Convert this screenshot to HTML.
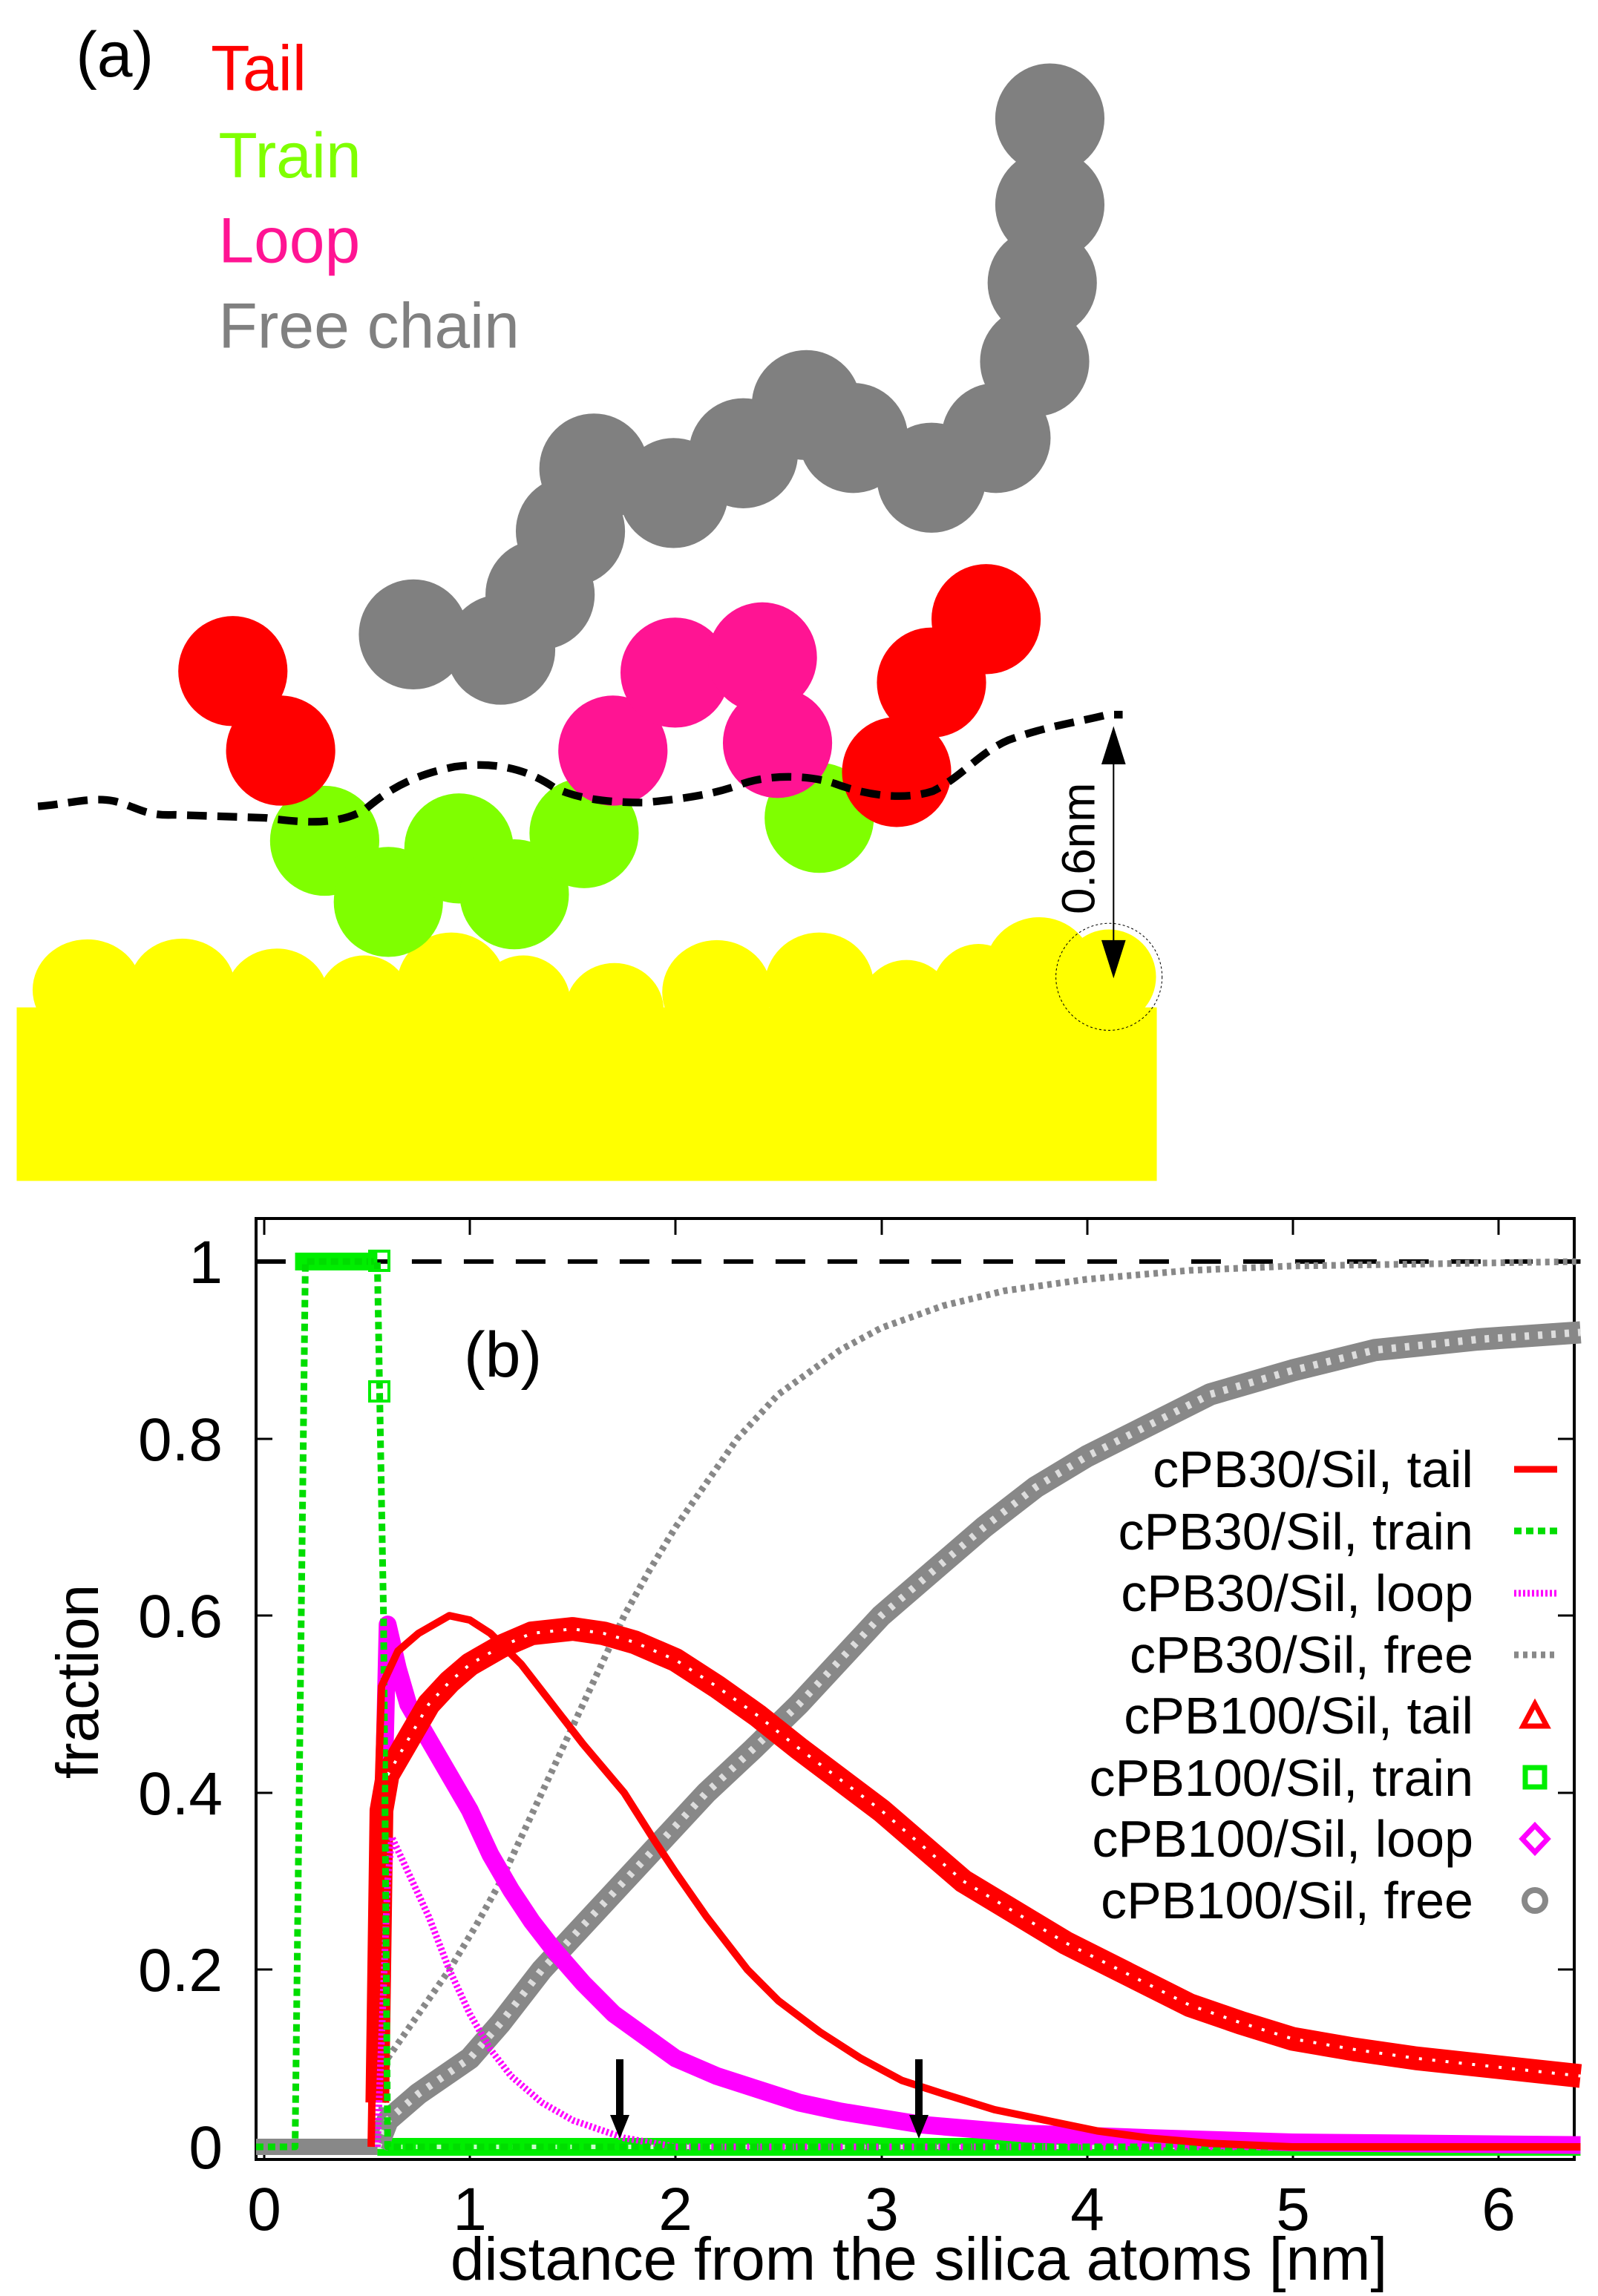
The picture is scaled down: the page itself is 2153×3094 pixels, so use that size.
<!DOCTYPE html>
<html><head><meta charset="utf-8"><style>
html,body{margin:0;padding:0;background:#fff}
svg{display:block}
text{font-family:"Liberation Sans",sans-serif}
</style></head><body>
<svg width="2153" height="3094" viewBox="0 0 2153 3094" xmlns="http://www.w3.org/2000/svg">
<rect width="2153" height="3094" fill="#fff"/>
<!-- Panel (a) -->
<g transform="scale(1.022,1.03)">
<rect x="22" y="1318" width="1503" height="227" fill="#ffff00"/>
<g fill="#ffff00">
<ellipse cx="115" cy="1295" rx="72" ry="66"/><ellipse cx="240" cy="1292" rx="70" ry="64"/><ellipse cx="365" cy="1305" rx="68" ry="64"/><ellipse cx="480" cy="1312" rx="62" ry="62"/><ellipse cx="595" cy="1290" rx="72" ry="70"/><ellipse cx="690" cy="1312" rx="62" ry="62"/><ellipse cx="810" cy="1322" rx="65" ry="62"/><ellipse cx="945" cy="1298" rx="72" ry="68"/><ellipse cx="1080" cy="1290" rx="72" ry="70"/><ellipse cx="1195" cy="1318" rx="62" ry="62"/><ellipse cx="1290" cy="1300" rx="62" ry="65"/><ellipse cx="1370" cy="1270" rx="72" ry="70"/><ellipse cx="1462" cy="1278" rx="62" ry="62"/>
</g>
<circle cx="1462" cy="1278" r="70" fill="none" stroke="#000" stroke-width="1" stroke-dasharray="3,3"/>
<g fill="#7fff00">
<circle cx="428" cy="1100" r="72"/><circle cx="512" cy="1180" r="72"/><circle cx="605" cy="1110" r="72"/><circle cx="678" cy="1170" r="72"/><circle cx="770" cy="1090" r="72"/><circle cx="1080" cy="1070" r="72"/>
</g>
<g fill="#ff0000">
<circle cx="307" cy="878" r="72"/><circle cx="370" cy="982" r="72"/><circle cx="1182" cy="1010" r="72"/><circle cx="1228" cy="893" r="72"/><circle cx="1300" cy="810" r="72"/>
</g>
<g fill="#ff1493">
<circle cx="808" cy="982" r="72"/><circle cx="890" cy="880" r="72"/><circle cx="1005" cy="860" r="72"/><circle cx="1025" cy="972" r="72"/>
</g>
<g fill="#808080">
<circle cx="545" cy="830" r="72"/><circle cx="660" cy="850" r="72"/><circle cx="712" cy="778" r="72"/><circle cx="752" cy="695" r="72"/><circle cx="783" cy="613" r="72"/><circle cx="888" cy="645" r="72"/><circle cx="980" cy="593" r="72"/><circle cx="1063" cy="530" r="72"/><circle cx="1125" cy="573" r="72"/><circle cx="1228" cy="625" r="72"/><circle cx="1313" cy="573" r="72"/><circle cx="1364" cy="473" r="72"/><circle cx="1374" cy="370" r="72"/><circle cx="1384" cy="268" r="72"/><circle cx="1384" cy="155" r="72"/>
</g>
<path d="M50,1055 C90,1052 120,1042 150,1048 C180,1055 190,1068 230,1066 L350,1070 C390,1075 440,1082 480,1060 C510,1035 540,1015 600,1003 C660,995 700,1010 730,1030 C760,1045 800,1050 850,1050 C900,1045 940,1040 980,1025 C1020,1012 1070,1015 1100,1025 C1140,1040 1190,1048 1230,1035 C1270,1015 1290,985 1330,968 C1380,950 1420,945 1460,935 L1480,935" fill="none" stroke="#000" stroke-width="10" stroke-dasharray="26,14"/>
<line x1="1468" y1="965" x2="1468" y2="1262" stroke="#000" stroke-width="2"/>
<polygon points="1468,950 1452,1000 1484,1000" fill="#000"/>
<polygon points="1468,1280 1452,1230 1484,1230" fill="#000"/>
<text transform="translate(1443,1110) rotate(-90)" text-anchor="middle" font-size="62">0.6nm</text>
<text x="100" y="100" font-size="84">(a)</text>
<text x="278" y="118" font-size="84" fill="#ff0000">Tail</text>
<text x="288" y="232" font-size="84" fill="#7fff00">Train</text>
<text x="288" y="343" font-size="84" fill="#ff1493">Loop</text>
<text x="288" y="455" font-size="84" fill="#808080">Free chain</text>
</g>

<!-- Panel (b) -->
<rect x="345" y="1642" width="1776" height="1268" fill="none" stroke="#000" stroke-width="4"/>
<g stroke="#000" stroke-width="3">
<path d="M356,2910v-22M633,2910v-22M910,2910v-22M1188,2910v-22M1465,2910v-22M1742,2910v-22M2019,2910v-22M356,1642v22M633,1642v22M910,1642v22M1188,1642v22M1465,1642v22M1742,1642v22M2019,1642v22"/>
<path d="M345,2893h22M345,2654h22M345,2416h22M345,2177h22M345,1939h22M345,1700h22M2121,2893h-22M2121,2654h-22M2121,2416h-22M2121,2177h-22M2121,1939h-22M2121,1700h-22"/>
</g>
<g font-size="82" text-anchor="end">
<text x="300" y="2922">0</text><text x="300" y="2683">0.2</text><text x="300" y="2445">0.4</text><text x="300" y="2206">0.6</text><text x="300" y="1968">0.8</text><text x="300" y="1729">1</text>
</g>
<g font-size="82" text-anchor="middle">
<text x="356" y="3005">0</text><text x="633" y="3005">1</text><text x="910" y="3005">2</text><text x="1188" y="3005">3</text><text x="1465" y="3005">4</text><text x="1742" y="3005">5</text><text x="2019" y="3005">6</text>
</g>
<text x="1238" y="3072" font-size="82" text-anchor="middle">distance from the silica atoms [nm]</text>
<text transform="translate(132,2266) rotate(-90)" font-size="80" text-anchor="middle">fraction</text>
<text x="625" y="1855" font-size="86">(b)</text>

<g transform="matrix(277.1 0 0 -1193 356 2893)" fill="none" stroke-linejoin="round">
<line x1="-0.04" y1="1" x2="6.4" y2="1" stroke="#000" stroke-width="6" vector-effect="non-scaling-stroke" stroke-dasharray="40,30"/>
<line x1="-0.04" y1="0" x2="6.4" y2="0" stroke="#000" stroke-width="3" vector-effect="non-scaling-stroke"/>
<polyline points="0.55,0 6.4,0" stroke="#00ee00" stroke-width="24" vector-effect="non-scaling-stroke"/>
<polyline points="0.55,0 6.4,0" stroke="#c8ffc8" stroke-width="6" stroke-dasharray="8,18" vector-effect="non-scaling-stroke"/>
<polyline points="0.15,1 0.55,1" stroke="#00ee00" stroke-width="24" vector-effect="non-scaling-stroke"/>
<polyline points="-0.04,0 0.55,0" stroke="#ff0000" stroke-width="10" vector-effect="non-scaling-stroke"/>
<polyline points="-0.04,0 0.55,0" stroke="#888" stroke-width="22" vector-effect="non-scaling-stroke"/>
<!-- cPB30 free -->
<polyline points="0.55,0 0.6,0.1 0.75,0.15 0.9,0.2 1.03,0.25 1.15,0.3 1.25,0.35 1.35,0.4 1.45,0.45 1.55,0.5 1.65,0.55 1.75,0.6 1.87,0.65 2.0,0.7 2.15,0.75 2.3,0.8 2.5,0.85 2.8,0.9 3.0,0.925 3.3,0.95 3.6,0.967 4,0.98 4.5,0.99 5,0.995 6.4,1" stroke="#888" stroke-width="9" stroke-dasharray="6,6" vector-effect="non-scaling-stroke"/>
<!-- cPB100 free -->
<polyline points="0.55,0 0.6,0.03 0.75,0.06 1.0,0.1 1.15,0.14 1.35,0.2 1.55,0.25 1.75,0.3 1.95,0.35 2.15,0.4 2.38,0.45 2.6,0.5 2.8,0.55 3.0,0.6 3.25,0.65 3.5,0.7 3.75,0.745 4.0,0.78 4.3,0.815 4.6,0.85 5.0,0.877 5.4,0.9 5.9,0.912 6.4,0.92" stroke="#888" stroke-width="30" vector-effect="non-scaling-stroke"/>
<polyline points="0.55,0 0.6,0.03 0.75,0.06 1.0,0.1 1.15,0.14 1.35,0.2 1.55,0.25 1.75,0.3 1.95,0.35 2.15,0.4 2.38,0.45 2.6,0.5 2.8,0.55 3.0,0.6 3.25,0.65 3.5,0.7 3.75,0.745 4.0,0.78 4.3,0.815 4.6,0.85 5.0,0.877 5.4,0.9 5.9,0.912 6.4,0.92" stroke="#ddd" stroke-width="10" stroke-dasharray="6,12" vector-effect="non-scaling-stroke"/>
<!-- cPB100 loop -->
<polyline points="0.55,0.09 0.6,0.59 0.65,0.54 0.7,0.5 0.8,0.46 0.9,0.42 1.0,0.38 1.1,0.33 1.2,0.29 1.3,0.255 1.4,0.225 1.55,0.185 1.7,0.15 1.85,0.125 2.0,0.1 2.2,0.08 2.4,0.065 2.6,0.05 2.8,0.04 3.2,0.025 3.7,0.015 4.3,0.01 5,0.005 6.4,0.002" stroke="#ff00ff" stroke-width="24" vector-effect="non-scaling-stroke"/>
<!-- cPB100 tail -->
<polyline points="0.55,0.05 0.57,0.38 0.6,0.42 0.7,0.46 0.8,0.5 0.9,0.525 1.0,0.545 1.15,0.565 1.3,0.58 1.5,0.585 1.65,0.58 1.8,0.57 2.0,0.55 2.2,0.52 2.4,0.487 2.6,0.45 2.8,0.415 3.0,0.38 3.2,0.34 3.4,0.3 3.65,0.265 3.9,0.23 4.2,0.195 4.5,0.16 4.75,0.14 5,0.122 5.3,0.11 5.6,0.1 6.0,0.09 6.4,0.08" stroke="#ff0000" stroke-width="32" vector-effect="non-scaling-stroke"/>
<polyline points="0.6,0.42 0.7,0.46 0.8,0.5 0.9,0.525 1.0,0.545 1.15,0.565 1.3,0.58 1.5,0.585 1.65,0.58 1.8,0.57 2.0,0.55 2.2,0.52 2.4,0.487 2.6,0.45 2.8,0.415 3.0,0.38 3.2,0.34 3.4,0.3 3.65,0.265 3.9,0.23 4.2,0.195 4.5,0.16 4.75,0.14 5,0.122 5.3,0.11 5.6,0.1 6.0,0.09 6.4,0.08" stroke="#fff" stroke-width="4" stroke-dasharray="4,14" vector-effect="non-scaling-stroke"/>
<!-- cPB30 loop -->
<polyline points="0.55,0 0.6,0.3 0.62,0.35 0.7,0.31 0.8,0.26 0.9,0.2 1.0,0.15 1.1,0.11 1.2,0.08 1.35,0.05 1.5,0.03 1.75,0.01 2,0 6.4,0" stroke="#ff00ff" stroke-width="9" stroke-dasharray="3,3" vector-effect="non-scaling-stroke"/>
<!-- train dashed -->
<polyline points="-0.04,0 0.15,0 0.2,1 0.55,1 0.58,0.6 0.6,0 6.4,0" stroke="#00dd00" stroke-width="9" stroke-dasharray="10,6" vector-effect="non-scaling-stroke"/>
<!-- cPB30 tail -->
<polyline points="0.52,0 0.54,0.3 0.57,0.52 0.65,0.56 0.75,0.58 0.9,0.6 1.0,0.595 1.1,0.58 1.25,0.545 1.4,0.5 1.55,0.455 1.75,0.4 1.9,0.345 2.0,0.31 2.15,0.26 2.35,0.2 2.5,0.165 2.7,0.13 2.9,0.1 3.1,0.075 3.3,0.06 3.55,0.042 3.8,0.03 4.05,0.018 4.3,0.01 4.6,0.004 5,0 6.4,0" stroke="#ff0000" stroke-width="10" vector-effect="non-scaling-stroke"/>
</g>
<rect x="498" y="1686" width="26" height="26" fill="none" stroke="#00ee00" stroke-width="4"/>
<rect x="498" y="1862" width="26" height="26" fill="none" stroke="#00ee00" stroke-width="4"/>
<g fill="#000">
<rect x="830" y="2775" width="10" height="80"/><polygon points="822,2850 848,2850 835,2882"/>
<rect x="1233" y="2775" width="10" height="80"/><polygon points="1225,2850 1251,2850 1238,2882"/>
</g>
<g font-size="70" text-anchor="end">
<text x="1985" y="2004">cPB30/Sil, tail</text>
<text x="1985" y="2088">cPB30/Sil, train</text>
<text x="1985" y="2171">cPB30/Sil, loop</text>
<text x="1985" y="2254">cPB30/Sil, free</text>
<text x="1985" y="2336">cPB100/Sil, tail</text>
<text x="1985" y="2420">cPB100/Sil, train</text>
<text x="1985" y="2502">cPB100/Sil, loop</text>
<text x="1985" y="2585">cPB100/Sil, free</text>
</g>
<line x1="2040" y1="1980" x2="2098" y2="1980" stroke="#ff0000" stroke-width="9"/>
<line x1="2040" y1="2063" x2="2098" y2="2063" stroke="#00dd00" stroke-width="9" stroke-dasharray="10,6"/>
<line x1="2040" y1="2147" x2="2098" y2="2147" stroke="#ff00ff" stroke-width="9" stroke-dasharray="3,3"/>
<line x1="2040" y1="2230" x2="2098" y2="2230" stroke="#888" stroke-width="9" stroke-dasharray="6,6"/>
<polygon points="2068,2296 2052,2326 2084,2326" fill="none" stroke="#ff0000" stroke-width="7"/>
<rect x="2055" y="2382" width="26" height="26" fill="none" stroke="#00ee00" stroke-width="7"/>
<polygon points="2068,2460 2085,2478 2068,2496 2051,2478" fill="none" stroke="#ff00ff" stroke-width="7"/>
<circle cx="2068" cy="2561" r="14" fill="none" stroke="#888" stroke-width="8"/>
</svg>
</body></html>
